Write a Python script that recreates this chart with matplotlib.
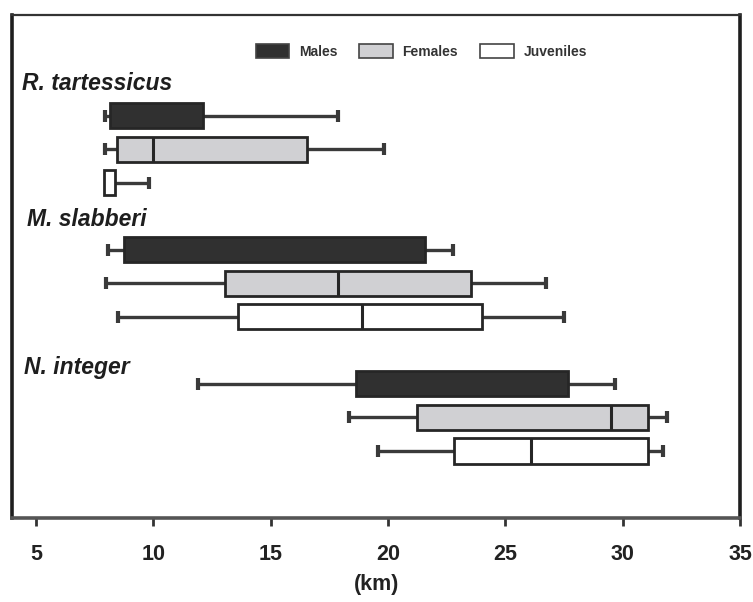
import matplotlib
matplotlib.use("Agg")
import matplotlib.pyplot as plt
from matplotlib.patches import Patch
from matplotlib.transforms import blended_transform_factory

# Distance ranges (km) per species and group
species = ["R. tartessicus", "M. slabberi", "N. integer"]
groups = ["Males", "Females", "Juveniles"]

whisker_lo = [[7.94, 7.94, 7.90], [8.07, 7.98, 8.50], [11.90, 18.34, 19.57]]
q1 = [[8.15, 8.45, 7.90], [8.75, 13.05, 13.60], [18.63, 21.23, 22.81]]
median = [[None, 9.99, None], [None, 17.87, 18.89], [None, 29.50, 26.09]]
q3 = [[12.12, 16.55, 8.37], [21.57, 23.53, 24.00], [27.67, 31.08, 31.08]]
whisker_hi = [[17.87, 19.83, 9.81], [22.77, 26.73, 27.50], [29.67, 31.89, 31.71]]

x_ticks = [5, 10, 15, 20, 25, 30, 35]

fills = {"Males": "#303030", "Females": "#d0d0d3", "Juveniles": "#ffffff"}
edge = "#262626"
line = "#3a3a3a"

fig = plt.figure(figsize=(7.53, 6.02), dpi=100)
ax = fig.add_axes([0.016, 0.1395, 0.967, 0.8355])

box_h = 0.75
for i, sp in enumerate(species):
    for j, g in enumerate(groups):
        y = 4 * i + j
        lo, a, b, hi = whisker_lo[i][j], q1[i][j], q3[i][j], whisker_hi[i][j]
        # whiskers with end caps
        if lo < a:
            ax.hlines(y, lo, a, color=line, lw=2.4, zorder=1)
            ax.plot([lo], [y], marker="|", ms=8, mew=3, color=line, zorder=2)
        ax.hlines(y, b, hi, color=line, lw=2.4, zorder=1)
        ax.plot([hi], [y], marker="|", ms=8, mew=3, color=line, zorder=2)
        # interquartile box
        ax.barh(y, b - a, left=a, height=box_h, color=fills[g],
                edgecolor=edge, linewidth=2, zorder=3)
        # median
        m = median[i][j]
        if m is not None:
            ax.vlines(m, y - box_h / 2, y + box_h / 2, color=edge, lw=2.2, zorder=4)

# species labels
trans = blended_transform_factory(ax.transAxes, ax.transData)
label_pos = [-0.95, 3.1, 7.5]
label_x = [0.014, 0.020, 0.017]
for sp, yp, xp in zip(species, label_pos, label_x):
    ax.text(xp, yp, sp, transform=trans, fontsize=16.5, style="italic",
            fontweight="bold", family="Liberation Sans", color="#1e1e1e",
            va="center", ha="left")

ax.set_xlim(3.98, 35.0)
ax.set_ylim(12.0, -3.0)
ax.set_yticks([])
ax.set_xticks(x_ticks)
ax.set_xticklabels([str(t) for t in x_ticks], fontsize=15.5, fontweight="bold",
                   family="Liberation Sans", color="#222222")
ax.tick_params(axis="x", direction="out", length=6, width=2, color="#333333", pad=13)
ax.set_xlabel("(km)", fontsize=15.5, fontweight="bold", family="Liberation Sans",
              color="#222222", labelpad=6)

for side in ["left", "right", "bottom"]:
    ax.spines[side].set_linewidth(2.6)
    ax.spines[side].set_color("#1e1e1e")
ax.spines["bottom"].set_color("#555555")
ax.spines["top"].set_linewidth(1.6)
ax.spines["top"].set_color("#333333")

handles = [Patch(facecolor=fills[g], edgecolor="#444444", linewidth=1.2, label=g)
           for g in groups]
ax.legend(handles=handles, ncol=3, frameon=False, loc="center",
          bbox_to_anchor=(0.562, 0.928), prop={"family": "Liberation Sans",
                                               "weight": "bold", "size": 10},
          handlelength=2.4, handleheight=1.15, handletextpad=0.7,
          columnspacing=1.6, labelcolor="#333333")

fig.savefig("out.png", dpi=100, facecolor="white")
